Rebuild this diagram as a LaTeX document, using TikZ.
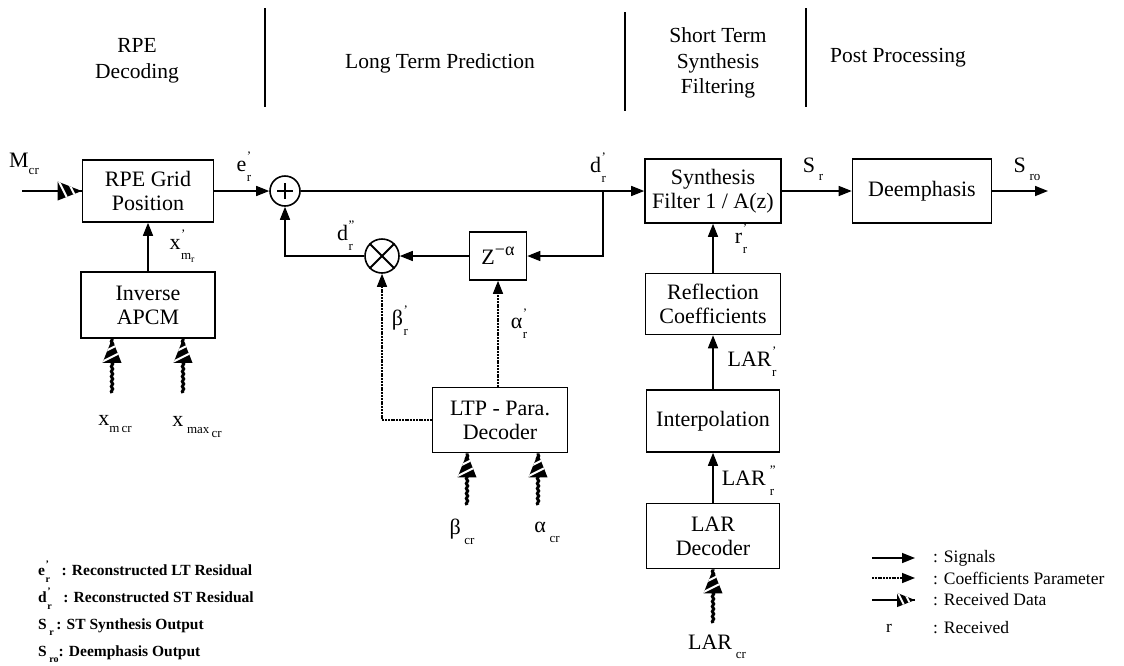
\documentclass[tikz,border=0pt]{standalone}
\usepackage{fontspec}
\setmainfont{Liberation Serif}
\usetikzlibrary{arrows.meta,decorations.pathmorphing,calc}
\newcommand\lbl[4][13]{#2\kern0.5pt\rlap{\raisebox{0.5em}{\fontsize{#1}{#1}\selectfont #3}}\raisebox{-0.45em}{\fontsize{#1}{#1}\selectfont #4}}
\tikzset{
  box/.style={draw, line width=1.6pt, inner sep=0pt, align=center},
  circ/.style={draw, circle, line width=1.6pt, inner sep=0pt},
  sig/.style={line width=1.5pt, -{Triangle[length=13pt,width=10pt]}},
  coef/.style={sig, dash pattern=on 2pt off 0.8pt},
  rxline/.style={line width=3pt, decorate, decoration={snake, amplitude=0.7pt, segment length=5pt}},
  lab/.style={inner sep=0pt},
  hdr/.style={inner sep=0pt, align=center},
  leg/.style={inner sep=0pt, anchor=west, font=\fontsize{15.5}{17}\selectfont\bfseries},
  legr/.style={inner sep=0pt, anchor=west, font=\fontsize{17.5}{19}\selectfont},
  rxhead/.pic={
    \begin{scope}
      \clip (0,0) -- (-9.5,24) -- (9.5,24) -- cycle;
      \fill[black] (-12,-2) rectangle (12,26);
      \draw[white, line width=2pt] (-12,15) -- (12,3);
      \draw[white, line width=2pt] (-12,24) -- (12,12);
    \end{scope}
  }
}
\begin{document}
\begin{tikzpicture}[x=1pt,y=-1pt,font=\fontsize{22}{24}\selectfont]
\useasboundingbox (0,0) rectangle (1124,665);

% header
\draw[line width=1.1pt] (265,8) -- (265,107);
\draw[line width=1.1pt] (625,12) -- (625,111);
\draw[line width=1.1pt] (806,8) -- (806,107);
\node[hdr, font=\fontsize{21.5}{26}\selectfont] (h1) at (137,61) {RPE\\Decoding};
\node[hdr, font=\fontsize{21.5}{26}\selectfont] (h2) at (440,63) {Long Term Prediction};
\node[hdr, font=\fontsize{21.5}{25.5}\selectfont] (h3) at (718,63) {Short Term\\Synthesis\\Filtering};
\node[hdr, font=\fontsize{21.5}{26}\selectfont] (h4) at (898,58) {Post Processing};

% blocks
\node[box, minimum width=131, minimum height=62] (rpe) at (148,191) {RPE Grid\\Position};
\node[box, minimum width=134, minimum height=66] (apcm) at (148,305) {Inverse\\APCM};
\node[circ, minimum size=30] (add) at (285,191) {};
\draw[line width=1.5pt] ([xshift=-8pt]add.center) -- ([xshift=8pt]add.center);
\draw[line width=1.5pt] ([yshift=-8pt]add.center) -- ([yshift=8pt]add.center);
\node[circ, minimum size=34] (mul) at (382,256) {};
\draw[line width=1.8pt] (mul.north west) -- (mul.south east);
\draw[line width=1.8pt] (mul.north east) -- (mul.south west);
\node[box, minimum width=57, minimum height=48] (zdel) at (498,256) {Z\raisebox{0.4em}{\fontsize{18}{18}\selectfont −α}};
\node[box, minimum width=135, minimum height=65] (ltp) at (500,420) {LTP - Para.\\Decoder};
\node[box, minimum width=136, minimum height=64] (synth) at (713,191) {Synthesis\\Filter 1 / A(z)};
\node[box, minimum width=139, minimum height=64] (deemph) at (922,191) {Deemphasis};
\node[box, minimum width=135, minimum height=61] (refl) at (713,304) {Reflection\\Coefficients};
\node[box, minimum width=133, minimum height=62] (interp) at (713,421) {Interpolation};
\node[box, minimum width=133, minimum height=65] (lardec) at (713,536) {LAR\\Decoder};

% coordinates
\coordinate (br) at (603,191);
\coordinate (out) at (1048,191);
\coordinate (mcrs) at (22,191);
\coordinate (xm1) at (112,393);
\coordinate (xm2) at (183,393);
\coordinate (bt) at (467,505);
\coordinate (at) at (538,505);
\coordinate (lart) at (713,623);

% signal connectors
\draw[sig] (rpe) -- (add);
\draw[sig] (add) -- (synth);
\draw[sig] (br) |- (zdel);
\draw[sig] (zdel) -- (mul);
\draw[sig] (mul) -| (add);
\draw[sig] (apcm) -- (rpe);
\draw[coef] (ltp) -| (mul);
\draw[coef] (zdel.south |- ltp.north) -- (zdel);
\draw[sig] (synth) -- (deemph);
\draw[sig] (deemph) -- (out);
\draw[sig] (refl) -- (synth);
\draw[sig] (interp) -- (refl);
\draw[sig] (lardec) -- (interp);

% received data
\draw[line width=1.2pt] (mcrs) -- (rpe.west);
\pic[rotate=-90] at (rpe.west) {rxhead};
\draw[rxline] (xm1) -- (apcm.south -| xm1);
\pic at (apcm.south -| xm1) {rxhead};
\draw[rxline] (xm2) -- (apcm.south -| xm2);
\pic at (apcm.south -| xm2) {rxhead};
\draw[rxline] (bt) -- (ltp.south -| bt);
\pic at (ltp.south -| bt) {rxhead};
\draw[rxline] (at) -- (ltp.south -| at);
\pic at (ltp.south -| at) {rxhead};
\draw[rxline] (lart) -- (lardec.south -| lart);
\pic at (lardec.south -| lart) {rxhead};

% labels
\node[lab] (lmcr) at (24,164) {M\raisebox{-0.3em}{\fontsize{13}{13}\selectfont cr}};
\node[lab] (le) at (244,167) {\lbl{e}{'}{r}};
\node[lab] (ld) at (598,168) {\lbl{d}{'}{r}};
\node[lab] (ldd) at (345,236) {\lbl{d}{''}{r}};
\node[lab] (lxm) at (182,246) {\lbl{x}{'}{m\raisebox{-0.25em}{\fontsize{10}{10}\selectfont r}}};
\node[lab] (lbeta) at (400,321) {\lbl{β}{'}{r}};
\node[lab] (lalpha) at (519,324) {\lbl{α}{'}{r}};
\node[lab] (lsr) at (813,169) {S\,\raisebox{-0.35em}{\fontsize{13}{13}\selectfont r}};
\node[lab] (lsro) at (1027,169) {S\,\raisebox{-0.35em}{\fontsize{13}{13}\selectfont ro}};
\node[lab] (lrr) at (741,239) {\lbl{r}{'}{r}};
\node[lab] (llar1) at (752,362) {\lbl{LAR}{'}{r}};
\node[lab] (llar2) at (748,481) {LAR\,\lbl{}{''}{r}};
\node[lab] (lxmcr) at (115,424) {x\raisebox{-0.3em}{\fontsize{13}{13}\selectfont m\,cr}};
\node[lab] (lxmax) at (197,427) {x\,\raisebox{-0.3em}{\fontsize{13}{13}\selectfont max\,\raisebox{-0.3em}{cr}}};
\node[lab] (lbcr) at (462,532) {β\,\raisebox{-0.45em}{\fontsize{13}{13}\selectfont cr}};
\node[lab] (lacr) at (547,532) {α\,\raisebox{-0.45em}{\fontsize{13}{13}\selectfont cr}};
\node[lab] (llarcr) at (717,647) {LAR\,\raisebox{-0.4em}{\fontsize{13}{13}\selectfont cr}};

% legend left
\node[leg] (g1) at (38,572) {\lbl[10]{e}{'}{r}\ \ \ : Reconstructed LT Residual};
\node[leg] (g2) at (38,599) {\lbl[10]{d}{'}{r}\ \ \ : Reconstructed ST Residual};
\node[leg] (g3) at (38,627) {S\,\raisebox{-0.4em}{\fontsize{10}{10}\selectfont r}\,: ST Synthesis Output};
\node[leg] (g4) at (38,654) {S\,\raisebox{-0.4em}{\fontsize{10}{10}\selectfont ro}: Deemphasis Output};

% legend right
\coordinate (s1a) at (872,558); \coordinate (s1b) at (915,558);
\coordinate (s2a) at (872,578); \coordinate (s2b) at (915,578);
\coordinate (s3a) at (872,600); \coordinate (s3b) at (915,600);
\draw[sig] (s1a) -- (s1b);
\draw[coef] (s2a) -- (s2b);
\draw[line width=1.2pt] (s3a) -- (s3b);
\pic[rotate=-90, scale=0.75] at (s3b) {rxhead};
\node[legr] (r1) at (933,558) {: Signals};
\node[legr] (r2) at (933,578) {: Coefficients Parameter};
\node[legr] (r3) at (933,600) {: Received Data};
\node[legr] (r4s) at (886,628) {r};
\node[legr] (r4) at (933,628) {: Received};
\end{tikzpicture}
\end{document}
